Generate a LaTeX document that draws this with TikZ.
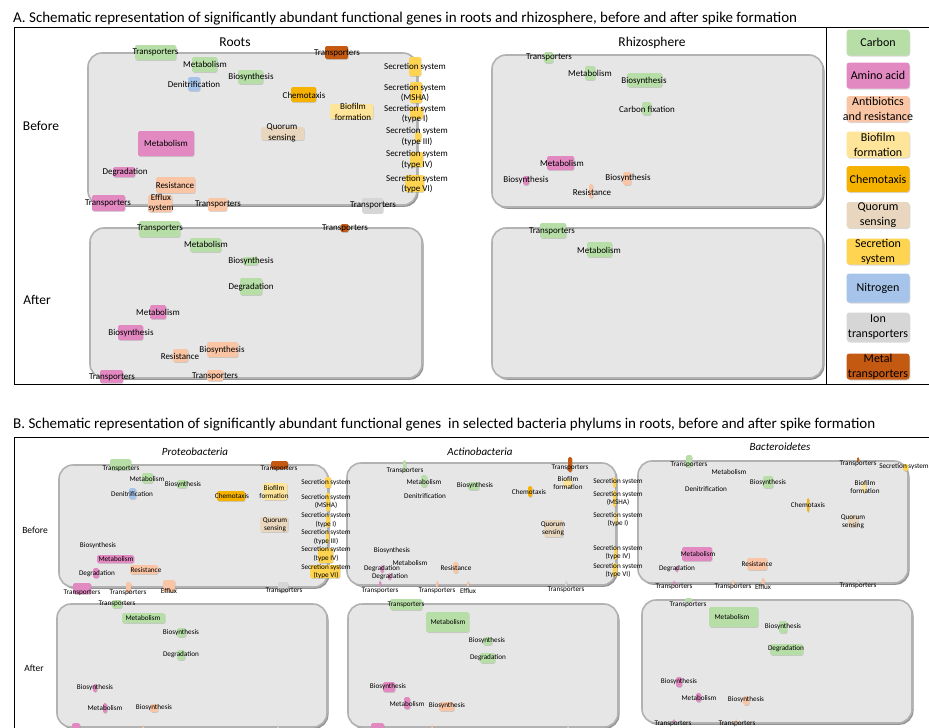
\documentclass[tikz,border=0pt]{standalone}
\usepackage{fontspec}
\setmainfont{Carlito}
\usetikzlibrary{shadows}

\definecolor{carbon}{RGB}{182,222,166}
\definecolor{amino}{RGB}{226,137,194}
\definecolor{anti}{RGB}{250,197,165}
\definecolor{biofilm}{RGB}{255,229,153}
\definecolor{chemo}{RGB}{245,178,0}
\definecolor{quorum}{RGB}{232,215,190}
\definecolor{secr}{RGB}{255,212,80}
\definecolor{nitro}{RGB}{166,196,234}
\definecolor{ion}{RGB}{214,214,214}
\definecolor{metal}{RGB}{196,89,17}
\definecolor{panelfill}{RGB}{230,230,230}

% one gene: [label style]{colour}{box centre}{w}{h}{label position}{text}
\newcounter{gn}
\newcommand{\gene}[7][labA]{%
  \stepcounter{gn}%
  \node[genebox, fill=#2, minimum width=#4pt, minimum height=#5pt] (box\arabic{gn}) at (#3) {};
  \node[#1] (lab\arabic{gn}) at (#6) {#7};}

\begin{document}
\begin{tikzpicture}[x=1pt, y=-1pt,
  genebox/.style={rectangle, rounded corners=1.5pt, inner sep=0pt, draw=none,
    drop shadow={shadow xshift=0.6pt, shadow yshift=-0.8pt, opacity=0.3}},
  labA/.style={inner sep=0pt, align=center, font=\fontsize{9}{10.5}\selectfont},
  labB/.style={inner sep=0pt, align=center, font=\fontsize{7.2}{8.5}\selectfont},
  panel/.style={fill=panelfill, draw=gray!60, line width=1.6pt, rounded corners=14pt,
    drop shadow={shadow xshift=1.5pt, shadow yshift=-1.8pt, fill=gray!60!black, opacity=0.6}},
  title/.style={anchor=west, inner sep=0pt, font=\fontsize{15}{18}\selectfont},
  head/.style={inner sep=0pt, font=\fontsize{13.5}{16}\selectfont},
  headB/.style={inner sep=0pt, font=\fontsize{9.5}{11}\selectfont},
  phyl/.style={inner sep=0pt, font=\fontsize{11}{13}\selectfont\itshape},
  legbox/.style={rectangle, rounded corners=3pt, inner sep=0pt, minimum width=63pt,
    minimum height=26pt, drop shadow={shadow xshift=0.8pt, shadow yshift=-1pt, opacity=0.3}},
  leglab/.style={inner sep=0pt, align=center, font=\fontsize{12}{15}\selectfont}
]
\useasboundingbox (0,0) rectangle (929,728);
\fill[white] (0,0) rectangle (929,728);

% ---------------- part A ----------------
\node[title] (titleA) at (13,19) {A. Schematic representation of significantly abundant functional genes in roots and rhizosphere, before and after spike formation};
\draw[line width=0.8pt] (14,27) rectangle (940,384);
\draw[line width=0.8pt] (826,27) -- (826,384);

\draw[panel] (88,53) rectangle (417,205);
\draw[panel] (90,228) rectangle (422,378);
\draw[panel] (492,55) rectangle (823,207);
\draw[panel] (492,228) rectangle (823,378);

\node[head] (roots) at (235,42) {Roots};
\node[head] (rhizo) at (652,43) {Rhizosphere};
\node[head] (beforeA) at (41,126) {Before};
\node[head] (afterA) at (37,300) {After};

% roots, before
\gene{carbon}{155.5,52.5}{41}{15}{155.5,52.5}{Transporters}
\gene{metal}{336.5,52.5}{23}{13}{337,53}{Transporters}
\gene{carbon}{204.5,64.5}{25}{15}{205,64}{Metabolism}
\gene{carbon}{250.5,77}{25}{14}{251,77}{Biosynthesis}
\gene{nitro}{194,84}{12}{14}{194,84}{Denitrification}
\gene{chemo}{303.5,94.5}{25}{15}{304,95}{Chemotaxis}
\gene{biofilm}{351.5,111.5}{43}{15}{353,112}{Biofilm\\formation}
\gene{quorum}{282.5,133.5}{43}{13}{282,133}{Quorum\\sensing}
\gene{amino}{166,143.5}{56}{25}{166,143}{Metabolism}
\gene{amino}{124,172}{22}{10}{125,172}{Degradation}
\gene{anti}{175.5,185}{39}{16}{175,185}{Resistance}
\gene{amino}{108.5,203}{33}{16}{108,203}{Transporters}
\gene{anti}{160,203.5}{24}{17}{161,203}{Efflux\\system}
\gene{anti}{217.5,204.5}{19}{13}{218,204}{Transporters}
\gene{ion}{372.5,205.5}{21}{15}{373,205}{Transporters}
\gene{secr}{415,66.5}{12}{19}{415,67}{Secretion system}
\gene{secr}{416,92.5}{12}{21}{415,93}{Secretion system\\(MSHA)}
\gene{secr}{416.5,113}{13}{12}{415,114}{Secretion system\\(type I)}
\gene{secr}{418,137}{6}{10}{417,136.5}{Secretion system\\(type III)}
\gene{secr}{416.5,159.5}{13}{15}{417,159.5}{Secretion system\\(type IV)}
\gene{secr}{414.5,183.5}{19}{17}{417,184}{Secretion system\\(type VI)}

% roots, after
\gene{carbon}{159.5,229}{41}{16}{160,228}{Transporters}
\gene{metal}{344.5,228}{8}{8}{345,228}{Transporters}
\gene{carbon}{205.5,245}{31}{14}{206,244}{Metabolism}
\gene{carbon}{250.5,261}{15}{8}{251,261}{Biosynthesis}
\gene{carbon}{251,286.5}{22}{17}{251,287}{Degradation}
\gene{amino}{158,312}{16}{14}{158,312}{Metabolism}
\gene{amino}{130.5,332.5}{25}{15}{131,333}{Biosynthesis}
\gene{anti}{180.5,355.5}{15}{13}{180,356}{Resistance}
\gene{anti}{222.5,349.5}{31}{15}{222,350}{Biosynthesis}
\gene{amino}{111.5,376.5}{23}{13}{112,377}{Transporters}
\gene{anti}{215,375.5}{16}{11}{215,376}{Transporters}

% rhizosphere, before
\gene{carbon}{548.5,57.5}{9}{11}{549,57}{Transporters}
\gene{carbon}{590,73}{10}{14}{590,73}{Metabolism}
\gene{carbon}{644.5,80}{35}{14}{644,81}{Biosynthesis}
\gene{carbon}{646.5,108.5}{9}{13}{647,109}{Carbon fixation}
\gene{amino}{560.5,163}{27}{14}{562,163}{Metabolism}
\gene{amino}{526,180.5}{6}{9}{526,180}{Biosynthesis}
\gene{anti}{627,178.5}{8}{13}{628,178}{Biosynthesis}
\gene{anti}{591,191}{4}{14}{592,192}{Resistance}

% rhizosphere, after
\gene{carbon}{553,230.5}{26}{15}{552,231}{Transporters}
\gene{carbon}{599.5,249.5}{25}{15}{599,250}{Metabolism}

% legend
\node[legbox, fill=carbon, label={[leglab]center:Carbon}] (lg-carbon) at (878,42.5) {};
\node[legbox, fill=amino, label={[leglab]center:Amino acid}] (lg-amino) at (878,75.5) {};
\node[legbox, fill=anti, label={[leglab]center:{Antibiotics\\and resistance}}] (lg-anti) at (878,109) {};
\node[legbox, fill=biofilm, label={[leglab]center:{Biofilm\\formation}}] (lg-biofilm) at (878,144.5) {};
\node[legbox, fill=chemo, label={[leglab]center:Chemotaxis}] (lg-chemo) at (878,179) {};
\node[legbox, fill=quorum, label={[leglab]center:{Quorum\\sensing}}] (lg-quorum) at (878,215) {};
\node[legbox, fill=secr, label={[leglab]center:{Secretion\\system}}] (lg-secr) at (878,251.5) {};
\node[legbox, fill=nitro, minimum height=29pt, label={[leglab]center:Nitrogen}] (lg-nitro) at (878,288) {};
\node[legbox, fill=ion, minimum height=29pt, label={[leglab]center:{Ion\\transporters}}] (lg-ion) at (878,327) {};
\node[legbox, fill=metal, label={[leglab]center:{Metal\\transporters}}] (lg-metal) at (878,366.5) {};

% ---------------- part B ----------------
\node[title] (titleB) at (13,425) {B. Schematic representation of significantly abundant functional genes \ in selected bacteria phylums in roots, before and after spike formation};
\draw[line width=0.8pt] (14,760) -- (14,437) -- (940,437);

\draw[panel] (59,465) rectangle (328,587);
\draw[panel] (347,463) rectangle (616,585);
\draw[panel] (638,461) rectangle (908,583);
\draw[panel] (57,604) rectangle (327,727);
\draw[panel] (348,604) rectangle (618,727);
\draw[panel] (642,600) rectangle (912,723);

\node[phyl] (proteo) at (195,452) {Proteobacteria};
\node[phyl] (actino) at (480,452) {Actinobacteria};
\node[phyl] (bacter) at (780,447) {Bacteroidetes};
\node[headB] (beforeB) at (35,530) {Before};
\node[headB] (afterB) at (34,668) {After};

% Proteobacteria, before
\gene[labB]{carbon}{120.5,464.5}{21}{11}{121,469}{Transporters}
\gene[labB]{metal}{279.5,465}{17}{8}{279,469}{Transporters}
\gene[labB]{carbon}{147.5,478}{11}{10}{147,479}{Metabolism}
\gene[labB]{carbon}{182,484}{10}{8}{183,485}{Biosynthesis}
\gene[labB]{nitro}{132.5,493.5}{7}{11}{132,494}{Denitrification}
\gene[labB]{chemo}{231,496}{28}{10}{232,496}{Chemotaxis}
\gene[labB]{biofilm}{275,491.5}{24}{17}{274,492}{Biofilm\\formation}
\gene[labB]{quorum}{274,524.5}{28}{15}{275,525}{Quorum\\sensing}
\node[labB] (pb-bios) at (98,546) {Biosynthesis};
\gene[labB]{amino}{115.5,559}{37}{8}{116,559}{Metabolism}
\gene[labB]{anti}{144,569.5}{28}{9}{146,570}{Resistance}
\gene[labB]{amino}{96,573}{6}{10}{97,574}{Degradation}
\gene[labB]{amino}{82,588.5}{18}{11}{82,593}{Transporters}
\gene[labB]{anti}{128.5,587.5}{5}{11}{128,593}{Transporters}
\gene[labB]{anti}{169,586}{12}{12}{169,591}{Efflux}
\gene[labB]{ion}{283,587}{10}{10}{284,591}{Transporters}
\gene[labB]{secr}{328,482.5}{6}{11}{326,483}{Secretion system}
\gene[labB]{secr}{328,502}{4}{19}{326,501.5}{Secretion system\\(MSHA)}
\gene[labB]{secr}{328,521}{4}{13}{326,520}{Secretion system\\(type I)}
\gene[labB]{secr}{327.5,537}{3}{13}{326,537}{Secretion system\\(type III)}
\gene[labB]{secr}{325.5,555.5}{15}{15}{326,554}{Secretion system\\(type IV)}
\gene[labB]{secr}{325,571.5}{30}{13}{326,571.5}{Secretion system\\(type VI)}

% Actinobacteria, before
\gene[labB]{carbon}{404.5,466}{3}{12}{405,471}{Transporters}
\gene[labB]{metal}{570,464.5}{4}{15}{570,468}{Transporters}
\gene[labB]{carbon}{424,481}{6}{12}{424,482}{Metabolism}
\gene[labB]{carbon}{473.5,486}{11}{8}{475,486}{Biosynthesis}
\node[labB] (ab-denit) at (425,496) {Denitrification};
\gene[labB]{chemo}{530,491.5}{4}{11}{529,492}{Chemotaxis}
\gene[labB]{biofilm}{567.5,483}{9}{8}{568,483}{Biofilm\\formation}
\gene[labB]{quorum}{553.5,528.5}{19}{17}{553,529}{Quorum\\sensing}
\node[labB] (ab-bios) at (392,551) {Biosynthesis};
\node[labB] (ab-metab) at (410,563) {Metabolism};
\gene[labB]{amino}{382,569}{3}{8}{382,569}{Degradation}
\gene[labB]{amino}{389.5,576.5}{3}{7}{390,577}{Degradation}
\gene[labB]{anti}{455.5,567.5}{5}{11}{456,568}{Resistance}
\gene[labB]{amino}{380,584}{2}{7}{380,591}{Transporters}
\gene[labB]{anti}{437,584}{2}{7}{437,591}{Transporters}
\gene[labB]{anti}{468,584}{2}{6}{468,591}{Efflux}
\gene[labB]{ion}{566,583.5}{2}{6}{566,590}{Transporters}
\gene[labB]{secr}{614.5,482.5}{3}{11}{618,482}{Secretion system}
\gene[labB]{secr}{614.5,498.5}{3}{17}{618,498.5}{Secretion system\\(MSHA)}
\gene[labB]{secr}{616,518.5}{2}{13}{618,519.5}{Secretion system\\(type I)}
\gene[labB]{secr}{615.5,553.5}{3}{13}{618,552.5}{Secretion system\\(type IV)}
\gene[labB]{secr}{615,570}{4}{14}{618,570.5}{Secretion system\\(type VI)}

% Bacteroidetes, before
\gene[labB]{carbon}{689,461}{6}{12}{689,465}{Transporters}
\node[labB] (bb-metab) at (729,472) {Metabolism};
\gene[labB]{carbon}{768,482}{10}{12}{768,483}{Biosynthesis}
\node[labB] (bb-denit) at (706,489) {Denitrification};
\gene[labB]{metal}{858,459.5}{2}{5}{858,464}{Transporters}
\gene[labB]{secr}{905.5,467.5}{5}{7}{904,467}{Secretion system}
\gene[labB]{biofilm}{864,487.5}{4}{11}{865,487}{Biofilm\\formation}
\gene[labB]{chemo}{808,505}{2}{14}{808,505}{Chemotaxis}
\gene[labB]{quorum}{853,521}{10}{12}{853,522}{Quorum\\sensing}
\gene[labB]{amino}{697,554}{30}{14}{698,554}{Metabolism}
\gene[labB]{amino}{676.5,569}{3}{6}{677,569}{Degradation}
\gene[labB]{anti}{757,564}{20}{12}{757,564}{Resistance}
\gene[labB]{amino}{674,583}{2}{5}{674,587}{Transporters}
\gene[labB]{anti}{733,583}{2}{6}{733,587}{Transporters}
\gene[labB]{anti}{763,582}{3}{8}{763,587}{Efflux}
\gene[labB]{ion}{858,582}{2}{6}{858,586}{Transporters}

% Proteobacteria, after
\gene[labB]{carbon}{117,604}{10}{8}{117,604}{Transporters}
\gene[labB]{carbon}{143.5,618}{43}{10}{143,618}{Metabolism}
\gene[labB]{carbon}{181.5,632.5}{9}{9}{181,633}{Biosynthesis}
\gene[labB]{carbon}{181,655}{8}{10}{181,655}{Degradation}
\gene[labB]{amino}{95,688}{4}{8}{95,688}{Biosynthesis}
\gene[labB]{amino}{105,708}{4}{10}{105,708}{Metabolism}
\gene[labB]{anti}{154,708}{8}{8}{154,708}{Biosynthesis}
\node[genebox, fill=amino, minimum width=8pt, minimum height=8pt] (pa-tr1) at (76,727) {};
\node[genebox, fill=anti, minimum width=1.5pt, minimum height=6pt] (pa-tr2) at (143,728) {};
\node[genebox, fill=ion, minimum width=1.5pt, minimum height=6pt] (pa-tr3) at (278,728) {};

% Actinobacteria, after
\gene[labB]{carbon}{406,604.5}{32}{11}{406,605}{Transporters}
\gene[labB]{carbon}{447.5,622}{43}{20}{448,622}{Metabolism}
\gene[labB]{carbon}{487.5,641}{9}{8}{487,641}{Biosynthesis}
\gene[labB]{carbon}{487.5,658}{15}{10}{488,658}{Degradation}
\gene[labB]{amino}{389,687}{12}{10}{388,687}{Biosynthesis}
\gene[labB]{amino}{407,703}{6}{12}{407,704}{Metabolism}
\gene[labB]{anti}{446.5,706.5}{15}{9}{447,706}{Biosynthesis}
\node[genebox, fill=amino, minimum width=13pt, minimum height=8pt] (aa-tr1) at (377.5,727) {};
\node[genebox, fill=anti, minimum width=1.5pt, minimum height=6pt] (aa-tr2) at (432,728) {};
\node[genebox, fill=ion, minimum width=1.5pt, minimum height=6pt] (aa-tr3) at (568,728) {};

% Bacteroidetes, after
\gene[labB]{carbon}{688.5,600}{7}{4}{688,605}{Transporters}
\gene[labB]{carbon}{733.5,617}{49}{20}{732,617}{Metabolism}
\gene[labB]{carbon}{783,627}{8}{12}{783,627}{Biosynthesis}
\gene[labB]{carbon}{786.5,649.5}{33}{11}{786,649}{Degradation}
\gene[labB]{amino}{679,682}{6}{10}{679,682}{Biosynthesis}
\gene[labB]{amino}{698.5,697.5}{5}{9}{699,698}{Metabolism}
\gene[labB]{anti}{746,700.5}{6}{9}{746,700}{Biosynthesis}
\gene[labB]{amino}{674,721}{2}{4}{673,723.5}{Transporters}
\gene[labB]{anti}{736,722}{2}{6}{737,723.5}{Transporters}
\end{tikzpicture}
\end{document}
